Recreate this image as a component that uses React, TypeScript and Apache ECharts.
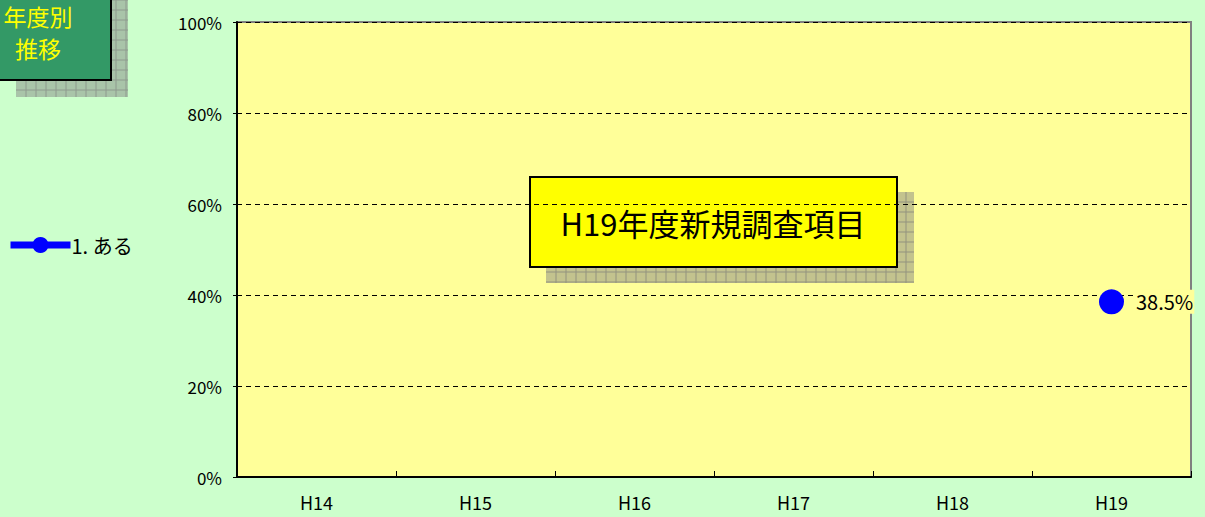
import React, { useEffect, useRef } from "react";
import * as echarts from "echarts";

const categories = ["H14", "H15", "H16", "H17", "H18", "H19"];
const seriesName = "1. ある";
const values: (number | null)[] = [null, null, null, null, null, 38.5];
const yTicks = { min: 0, max: 100, interval: 20 };
const sideTitle = ["年度別", "推移"];
const noteText = "H19年度新規調査項目";

const FONT = "'Noto Sans CJK JP', 'Liberation Sans', sans-serif";

function patternRect(x: number, y: number, w: number, h: number, base: string, line: string) {
  const children: any[] = [
    { type: "rect", shape: { x, y, width: w, height: h }, style: { fill: base } },
  ];
  for (let gx = x + 10; gx < x + w; gx += 10) {
    children.push({ type: "line", shape: { x1: gx, y1: y, x2: gx, y2: y + h }, style: { stroke: line, lineWidth: 1 } });
  }
  for (let gy = y + 10; gy < y + h; gy += 10) {
    children.push({ type: "line", shape: { x1: x, y1: gy, x2: x + w, y2: gy }, style: { stroke: line, lineWidth: 1 } });
  }
  return { type: "group", silent: true, children };
}

export default function App() {
  const ref = useRef<HTMLDivElement>(null);
  useEffect(() => {
    if (!ref.current) return;
    const chart = echarts.init(ref.current, null, { renderer: "svg" });
    chart.setOption({
      animation: false,
      backgroundColor: "#CCFFCC",
      textStyle: { fontFamily: FONT },
      grid: {
        left: 237,
        right: 14,
        top: 22,
        bottom: 40,
        show: true,
        backgroundColor: "#FFFF99",
        borderColor: "#808080",
        borderWidth: 2,
      },
      legend: {
        show: true,
        left: 7,
        top: 235,
        padding: 0,
        itemWidth: 60,
        itemHeight: 20,
        itemGap: 4,
        data: [{ name: seriesName }],
        textStyle: { fontSize: 20, color: "#000", fontFamily: FONT, padding: [0, 0, 0, -4] },
        lineStyle: { width: 7, color: "#0000FF" },
      },
      xAxis: {
        type: "category",
        data: categories,
        boundaryGap: true,
        axisLine: { lineStyle: { color: "#000", width: 2 } },
        axisTick: { show: true, inside: true, length: 6, lineStyle: { color: "#000" } },
        axisLabel: { color: "#000", fontSize: 18, margin: 16, fontFamily: FONT },
        splitLine: { show: false },
      },
      yAxis: {
        type: "value",
        min: yTicks.min,
        max: yTicks.max,
        interval: yTicks.interval,
        axisLine: { show: true, lineStyle: { color: "#000", width: 2 } },
        axisTick: { show: true, length: 4, lineStyle: { color: "#000" } },
        axisLabel: { color: "#000", fontSize: 17, margin: 15, formatter: "{value}%", fontFamily: FONT },
        splitLine: { show: true, lineStyle: { color: "#000", type: [5, 4], width: 1 } },
      },
      series: [
        {
          name: seriesName,
          type: "line",
          data: values,
          color: "#0000FF",
          symbol: "circle",
          symbolSize: 25,
          lineStyle: { width: 7, color: "#0000FF" },
          itemStyle: { color: "#0000FF" },
          label: {
            show: true,
            position: "right",
            distance: 10,
            formatter: (p: any) => `${p.value}%`,
            color: "#000",
            fontSize: 20,
            fontFamily: FONT,
            backgroundColor: "#FFFF99",
            padding: [2, 1, 2, 2],
          },
          z: 5,
        },
      ],
      graphic: [
        patternRect(16, -20, 112, 117, "#A9C4A9", "#8E9A8E"),
        {
          type: "rect",
          shape: { x: -10, y: -20, width: 121, height: 100 },
          style: { fill: "#339966", stroke: "#000", lineWidth: 2 },
        },
        {
          type: "text",
          style: {
            text: sideTitle.join("\n"),
            x: 38,
            y: 0,
            fill: "#FFFF00",
            fontSize: 23,
            lineHeight: 32,
            fontFamily: FONT,
            align: "center",
            verticalAlign: "top",
          },
        },
        patternRect(546, 192, 368, 91, "#C3C38E", "#93937E"),
        {
          type: "rect",
          shape: { x: 530, y: 177, width: 367, height: 90 },
          style: { fill: "#FFFF00", stroke: "#000", lineWidth: 2 },
        },
        {
          type: "text",
          style: { text: noteText, x: 713, y: 222, fill: "#000", fontSize: 31, fontFamily: FONT, align: "center", verticalAlign: "middle" },
        },
      ],
    });
    return () => chart.dispose();
  }, []);
  return <div ref={ref} style={{ position: "fixed", left: 0, top: 0, width: 1205, height: 517 }} />;
}
